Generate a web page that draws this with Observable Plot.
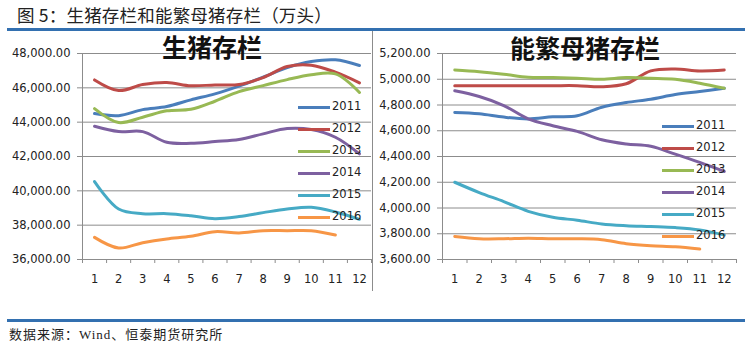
<!DOCTYPE html>
<html><head><meta charset="utf-8">
<script src="https://cdn.jsdelivr.net/npm/d3@7"></script>
<script src="https://cdn.jsdelivr.net/npm/@observablehq/plot@0.6"></script>
<style>
html,body{margin:0;padding:0;background:#fff;}
#root{position:relative;width:746px;height:343px;overflow:hidden;background:#fff;font-family:"DejaVu Sans",sans-serif;}
.abs{position:absolute;}
#title{left:17px;top:2px;font-family:"Noto Sans CJK SC",sans-serif;font-size:17.5px;color:#222;white-space:nowrap;letter-spacing:0.2px;}
.bar{background:#3370B0;height:3px;left:7px;width:738px;}
.ptitle{font-family:"Noto Sans CJK SC",sans-serif;font-weight:bold;font-size:25px;color:#111;white-space:nowrap;transform:translate(-50%,-50%);}
#source{left:9px;top:324px;font-family:"Liberation Serif","Noto Sans CJK SC",serif;font-size:13px;color:#222;letter-spacing:1px;white-space:nowrap;}
.leg{font-size:11.5px;color:#222;white-space:nowrap;}
.legline{height:3px;}
</style></head><body>
<div id="root"></div>
<script>
const months = [1,2,3,4,5,6,7,8,9,10,11,12];
const years = ["2011","2012","2013","2014","2015","2016"];
const colors = ["#4A7EBB","#BE4B48","#98B954","#7D60A0","#46AAC5","#F79646"];

// 生猪存栏 (万头)
const hog2011 = [44500,44380,44730,44910,45300,45650,46100,46620,47180,47530,47630,47300];
const hog2012 = [46460,45840,46190,46310,46120,46170,46190,46600,47240,47320,46910,46290];
const hog2013 = [44790,43980,44290,44660,44750,45220,45780,46130,46480,46760,46810,45730];
const hog2014 = [43760,43450,43450,42830,42770,42870,42990,43320,43630,43570,43120,42150];
const hog2015 = [40540,38940,38670,38670,38550,38380,38500,38730,38940,39040,38770,38340];
const hog2016 = [37290,36670,36980,37200,37350,37620,37550,37680,37680,37680,37430];

// 能繁母猪存栏 (万头)
const sow2011 = [4742,4732,4706,4692,4708,4716,4783,4819,4845,4881,4905,4930];
const sow2012 = [4950,4950,4950,4950,4950,4950,4942,4965,5065,5080,5065,5072];
const sow2013 = [5072,5059,5039,5015,5013,5008,5000,5013,5008,5000,4969,4930];
const sow2014 = [4910,4866,4796,4693,4639,4595,4530,4497,4479,4418,4354,4284];
const sow2015 = [4200,4120,4050,3974,3928,3905,3876,3863,3856,3848,3830,3790];
const sow2016 = [3779,3761,3761,3766,3761,3761,3754,3723,3707,3699,3681];

const hogTicks = [36000,38000,40000,42000,44000,46000,48000];
const sowTicks = [3600,3800,4000,4200,4400,4600,4800,5000,5200];

const root = document.getElementById("root");
function el(cls, style, text){const d=document.createElement("div");d.className=cls;Object.assign(d.style,style);if(text!=null)d.textContent=text;root.appendChild(d);return d;}

function table(seriesList){
  const rows=[];
  seriesList.forEach((s,i)=>s.forEach((v,j)=>rows.push({year:years[i],month:months[j],value:v})));
  return rows;
}

function panel(rows, ticks, opts){
  const fmt = d3.format(",.2f");
  return Plot.plot({
    width: opts.width, height: 265,
    marginLeft: opts.ml, marginRight: opts.mr, marginTop: 23, marginBottom: 36,
    style: {background:"transparent", color:"#222", fontFamily:"DejaVu Sans, sans-serif", fontSize:"11.5px"},
    x: {type:"linear", domain:[0.5,12.5], axis:null, label:null},
    y: {domain:[ticks[0], ticks[ticks.length-1]], axis:null, label:null},
    color: {domain: years, range: colors},
    marks: [
      Plot.gridY(ticks, {stroke:"#8c8c8c", strokeOpacity:1}),
      Plot.ruleX([0.5], {stroke:"#8c8c8c"}),
      Plot.axisY(ticks, {tickSize:5, stroke:"#8c8c8c", tickFormat:()=>"", label:null}),
      Plot.axisY(ticks, {tickSize:0, tickPadding:12, tickFormat:fmt, fill:"#222", label:null}),
      Plot.axisX(d3.range(0.5,13,1), {tickSize:4, stroke:"#8c8c8c", tickFormat:()=>"", label:null}),
      Plot.axisX(months, {tickSize:0, tickPadding:15, fill:"#222", label:null}),
      Plot.line(rows, {x:"month", y:"value", z:"year", stroke:"year", strokeWidth:3, curve:"catmull-rom"})
    ]
  });
}

// header
el("abs",{left:"17px",top:"2px"},"图 5：生猪存栏和能繁母猪存栏（万头）").id="title";
el("abs bar",{top:"28px"});

const left = panel(table([hog2011,hog2012,hog2013,hog2014,hog2015,hog2016]), hogTicks, {width:372, ml:82, mr:1});
Object.assign(left.style,{position:"absolute",left:"0px",top:"30px"});
root.appendChild(left);
const right = panel(table([sow2011,sow2012,sow2013,sow2014,sow2015,sow2016]), sowTicks, {width:374, ml:70, mr:10});
Object.assign(right.style,{position:"absolute",left:"372px",top:"30px"});
root.appendChild(right);

// divider between panels
el("abs",{left:"372px",top:"31px",width:"1px",height:"260px",background:"#8c8c8c"});

// panel titles
el("abs ptitle",{left:"212px",top:"46px"},"生猪存栏");
el("abs ptitle",{left:"585px",top:"47px"},"能繁母猪存栏");

// legends
function legend(x0, y0){
  years.forEach((y,i)=>{
    const cy = y0 + i*22;
    el("abs legline",{left:x0+"px",top:(cy-1.5)+"px",width:"32px",background:colors[i]});
    el("abs leg",{left:(x0+34)+"px",top:(cy-8)+"px"},y);
  });
}
legend(298,107);
legend(662,126);

// footer
el("abs bar",{top:"319px"});
el("abs",{},"数据来源：Wind、恒泰期货研究所").id="source";
</script>
</body></html>
